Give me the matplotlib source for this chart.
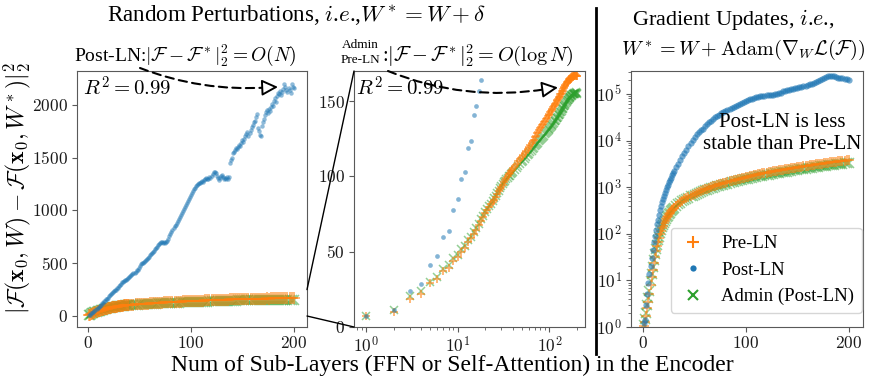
import numpy as np
import matplotlib
matplotlib.use('Agg')
import matplotlib.pyplot as plt
from matplotlib.patches import FancyArrowPatch, ConnectionPatch
from matplotlib.lines import Line2D
from matplotlib.ticker import FuncFormatter, NullFormatter, FixedLocator

plt.rcParams['font.family'] = ['Liberation Serif', 'DejaVu Serif']
plt.rcParams['mathtext.fontset'] = 'cm'

# ---------------- data: random perturbations (panels 1 & 2) ----------------
layers_post = list(range(1, 201))
post_perturb = [
    7, 11.5, 24, 28.5, 41, 47, 60, 64, 77.5, 85,
    98, 103, 119, 123.5, 141, 146.5, 157, 164, 175, 185,
    196, 204, 214, 225, 233, 244, 251, 262, 268, 282,
    290, 305, 318, 322, 331, 338, 345, 352, 362, 370,
    378, 385, 398, 405, 412, 420, 432, 440, 452, 470,
    488, 500, 506, 515, 521, 530, 538, 548, 560, 575,
    586, 598, 606, 618, 630, 640, 652, 668, 680, 690,
    697, 702, 690, 700, 695, 700, 712, 730, 756, 778,
    798, 815, 832, 850, 865, 880, 900, 918, 935, 955,
    975, 990, 1010, 1030, 1050, 1068, 1090, 1110, 1130, 1148,
    1165, 1185, 1200, 1215, 1230, 1240, 1250, 1262, 1255, 1270,
    1280, 1265, 1290, 1300, 1310, 1295, 1300, 1320, 1305, 1325,
    1340, 1360, 1365, 1350, 1330, 1310, 1290, 1305, 1325, 1335,
    1320, 1300, 1310, 1295, 1315, 1300, 1320, 1445, 1475, 1500,
    1540, 1555, 1575, 1590, 1580, 1600, 1620, 1610, 1640, 1665,
    1650, 1680, 1700, 1720, 1740, 1700, 1730, 1760, 1790, 1810,
    1835, 1850, 1880, 1910, 1780, 1750, 1715, 1705, 1800, 1840,
    1870, 1900, 1935, 1950, 1920, 1960, 1945, 1975, 2010, 1990,
    2040, 2060, 2030, 2080, 2110, 2100, 2130, 2090, 2120, 2150,
    2200, 2170, 2140, 2120, 2160, 2140, 2110, 2200, 2170, 2160,
]

layers_band = list(range(1, 41)) + list(range(42, 201, 2))
pre_perturb = [
    7.2, 9.8, 18.5, 22, 29, 32, 37, 39.5, 44, 46.5,
    50, 52.5, 56.5, 59, 62, 64.5, 67.5, 70.5, 73, 75.5,
    77.5, 80, 81.5, 83, 84.5, 86.5, 88, 90, 91.5, 93,
    94.5, 96, 97.5, 99, 100.5, 101.5, 102.5, 103.5, 104.5, 105.5,
    107, 108.5, 110, 111.5, 113, 114, 115.5, 117, 118.5, 119.5,
    121, 122, 123.5, 124.5, 126, 127, 128.5, 129.5, 131, 132,
    133, 134, 135, 136, 137, 138, 139, 140, 140.5, 141.5,
    142.5, 143.5, 144, 145, 146, 146.5, 147.5, 148, 149, 150,
    150.5, 151.5, 152, 153, 153.5, 154.5, 155, 155.5, 156.5, 157,
    158, 158.5, 159.5, 160, 160.5, 161.5, 162, 162.5, 163, 163.5,
    164, 164.5, 164, 165, 165.5, 165, 166, 165.5, 166.5, 166,
    167, 166.5, 167.5, 166.5, 167, 168, 166.5, 167.5, 167, 166.5,
]
admin_perturb = [
    7.5, 11.5, 20.5, 24, 30, 33.5, 38.5, 41, 46, 48,
    51.5, 54, 58, 60, 63, 65.5, 68.5, 71.5, 74, 76.5,
    78.5, 80.5, 82, 84, 85.5, 87, 89, 90.5, 92, 93.5,
    95, 96, 97, 98, 99, 100, 100.5, 101.5, 102, 103,
    104, 105.5, 107, 108, 109.5, 110.5, 111.5, 113, 114, 115,
    116, 117, 118, 119, 120, 121, 121.5, 122.5, 123.5, 124,
    125, 125.5, 126.5, 127, 128, 128.5, 129.5, 130, 130.5, 131.5,
    132, 133, 133.5, 134, 135, 135.5, 136.5, 137, 137.5, 138.5,
    139, 139.5, 140.5, 141, 141.5, 142.5, 143, 143.5, 144.5, 145,
    145.5, 146.5, 147, 147.5, 148, 148.5, 149.5, 150, 150.5, 151,
    151.5, 152, 152, 152.5, 153, 153.5, 154, 153.5, 154, 154.5,
    155, 154.5, 155, 155.5, 155, 155.5, 156, 155.5, 155, 155.5,
]

# ---------------- data: gradient updates (panel 3) ----------------
layers_grad = list(range(1, 31)) + list(range(32, 201, 2))
post_grad = [
    1.2, 1.4, 3, 5, 9, 14, 20, 30, 45, 65,
    90, 120, 160, 200, 250, 320, 390, 470, 560, 660,
    760, 870, 990, 1120, 1260, 1420, 1600, 1800, 2000, 2200,
    2650, 3150, 3800, 4600, 5500, 6300, 7500, 8800, 10200, 11800,
    13800, 15000, 16500, 18000, 20000, 22500, 24500, 26500, 29000, 31500,
    33500, 35500, 38000, 40000, 42500, 44500, 46500, 49000, 51500, 54000,
    57000, 60500, 63500, 67000, 70000, 73000, 76000, 79000, 82000, 85000,
    87000, 88500, 90000, 91000, 92500, 93500, 94000, 95500, 97500, 100000,
    104000, 107000, 113000, 115000, 121000, 122000, 127000, 128000, 133000, 134000,
    139000, 143000, 147000, 151000, 155000, 160000, 166000, 172000, 180000, 188000,
    196000, 205000, 215000, 228000, 240000, 248000, 245000, 238000, 228000, 222000,
    219000, 215000, 212000, 208000, 200000,
]
pre_grad = [
    1.05, 1.3, 1.7, 2.5, 3.5, 5, 8, 12, 17, 24,
    32, 42, 54, 67, 82, 98, 115, 132, 150, 168,
    186, 205, 224, 243, 262, 282, 302, 322, 342, 362,
    400, 437, 476, 511, 550, 584, 621, 654, 691, 725,
    761, 794, 831, 864, 901, 934, 971, 1004, 1041, 1075,
    1111, 1144, 1181, 1214, 1252, 1289, 1331, 1369, 1411, 1449,
    1491, 1529, 1571, 1609, 1652, 1689, 1731, 1769, 1811, 1849,
    1891, 1929, 1971, 2009, 2052, 2089, 2131, 2169, 2211, 2249,
    2291, 2329, 2372, 2409, 2451, 2494, 2541, 2584, 2631, 2674,
    2721, 2764, 2811, 2854, 2901, 2944, 2991, 3034, 3081, 3124,
    3171, 3214, 3261, 3304, 3351, 3394, 3441, 3484, 3531, 3574,
    3621, 3664, 3711, 3754, 3800,
]
admin_grad = [
    1.1, 1.5, 2.0, 3.0, 4.2, 6, 9.5, 14, 19.5, 27,
    36, 46, 58, 72, 87, 103, 120, 137, 155, 172,
    190, 208, 227, 245, 264, 283, 302, 320, 339, 357,
    393, 429, 462, 498, 531, 566, 596, 631, 661, 695,
    725, 758, 788, 821, 850, 883, 912, 945, 974, 1007,
    1036, 1069, 1098, 1131, 1160, 1196, 1227, 1263, 1294, 1329,
    1360, 1395, 1426, 1461, 1492, 1528, 1560, 1595, 1627, 1662,
    1694, 1729, 1761, 1796, 1828, 1863, 1895, 1930, 1962, 1997,
    2029, 2065, 2097, 2133, 2165, 2205, 2241, 2281, 2317, 2357,
    2393, 2433, 2469, 2509, 2545, 2585, 2621, 2661, 2697, 2737,
    2773, 2813, 2849, 2889, 2925, 2965, 3001, 3041, 3077, 3117,
    3153, 3193, 3229, 3269, 3300,
]

series_labels = ['Pre-LN', 'Post-LN', 'Admin (Post-LN)']

# ---------------- figure ----------------
W, H = 872, 379
fig = plt.figure(figsize=(W / 100, H / 100), dpi=100)


def box(l, t, r, b):
    return [l / W, 1 - b / H, (r - l) / W, (b - t) / H]


def fpx(x, y):
    return (x / W, 1 - y / H)


C_PRE, C_POST, C_ADM = '#ff7f0e', '#1f77b4', '#2ca02c'
SPINE = '0.35'

ax1 = fig.add_axes(box(77, 71, 307, 327))
ax2 = fig.add_axes(box(354, 71, 585, 327))
ax3 = fig.add_axes(box(631, 71, 863, 327))


def draw(ax, xb, pre, adm, xp, post, ms_band, ms_post, a_post):
    ax.plot(xb, adm, ls='none', marker='x', ms=ms_band, mew=1.1,
            color=C_ADM, alpha=0.5)
    ax.plot(xb, pre, ls='none', marker='+', ms=ms_band * 1.15, mew=1.3,
            color=C_PRE, alpha=0.6)
    ax.plot(xp, post, ls='none', marker='o', ms=ms_post, mew=0,
            color=C_POST, alpha=a_post)


draw(ax1, layers_band, pre_perturb, admin_perturb, layers_post, post_perturb,
     7, 3.2, 0.5)
draw(ax2, layers_band, pre_perturb, admin_perturb, layers_post, post_perturb,
     5.2, 3.4, 0.55)
draw(ax3, layers_grad, pre_grad, admin_grad, layers_grad, post_grad,
     6.5, 4.5, 0.6)

num_fmt = FuncFormatter(lambda v, p: f'${v:g}$')
pow_fmt = FuncFormatter(lambda v, p: f'$10^{{{int(round(np.log10(v)))}}}$')

ax1.set_xlim(-11, 213)
ax1.set_ylim(-104, 2320)
ax1.set_xticks([0, 100, 200])
ax1.set_yticks([0, 500, 1000, 1500, 2000])

ax2.set_xscale('log')
ax2.set_xlim(0.74, 245)
ax2.set_ylim(0, 170)
ax2.set_yticks([0, 50, 100, 150])

ax3.set_yscale('log')
ax3.set_xlim(-12, 214)
ax3.set_ylim(1, 3.1e5)
ax3.set_xticks([0, 100, 200])

for ax in (ax1, ax2, ax3):
    for s in ax.spines.values():
        s.set_color(SPINE)
    ax.tick_params(colors=SPINE, labelcolor='0.1', labelsize=12.5, length=3.5,
                   pad=3)
    ax.tick_params(which='minor', colors=SPINE, length=2)

ax1.xaxis.set_major_formatter(num_fmt)
ax1.yaxis.set_major_formatter(num_fmt)
ax2.yaxis.set_major_formatter(num_fmt)
ax2.xaxis.set_major_formatter(pow_fmt)
ax2.xaxis.set_minor_formatter(NullFormatter())
ax3.xaxis.set_major_formatter(num_fmt)
ax3.yaxis.set_major_locator(FixedLocator([1, 10, 100, 1e3, 1e4, 1e5]))
ax3.yaxis.set_major_formatter(pow_fmt)
ax3.yaxis.set_minor_formatter(NullFormatter())

# R^2 labels
ax1.text(0.025, 0.93, r'$R^2 = 0.99$', transform=ax1.transAxes, fontsize=15,
         va='center', ha='left')
ax2.text(0.008, 0.93, r'$R^2 = 0.99$', transform=ax2.transAxes, fontsize=15,
         va='center', ha='left')

ax3.text(0.652, 0.755, 'Post-LN is less\nstable than Pre-LN',
         transform=ax3.transAxes, ha='center', va='center', fontsize=15,
         linespacing=1.25)

# legend
handles = [
    Line2D([], [], ls='none', marker='+', ms=8, mew=1.5, color=C_PRE),
    Line2D([], [], ls='none', marker='o', ms=4.5, mew=0, color=C_POST),
    Line2D([], [], ls='none', marker='x', ms=7, mew=1.5, color=C_ADM),
]
ax3.legend(handles, series_labels, loc='lower right',
           bbox_to_anchor=(0.995, 0.055), borderaxespad=0, fontsize=13.5,
           framealpha=0.8, handletextpad=0.7, labelspacing=0.5,
           handlelength=1.6)

# zoom connector lines from panel 1 to panel 2
for ya, yb in ((250, 1), (0, 0)):
    con = ConnectionPatch(xyA=(213, ya), coordsA='data', axesA=ax1,
                          xyB=(0, yb), coordsB='axes fraction', axesB=ax2,
                          color='k', lw=1.0)
    fig.add_artist(con)

# separator line
fig.add_artist(Line2D([596 / W, 596 / W], [1 - 8 / H, 1 - 354 / H],
                      transform=fig.transFigure, color='k', lw=2))

# titles
fig.text(*fpx(297, 16), r'Random Perturbations, $i$.$e$.,$W^* = W + \delta$',
         ha='center', va='center', fontsize=16.6)
fig.text(*fpx(733, 20), r'Gradient Updates, $i$.$e$.,',
         ha='center', va='center', fontsize=16)
fig.text(*fpx(743, 50), r'$W^* = W + \mathrm{Adam}(\nabla_W \mathcal{L}(\mathcal{F}))$',
         ha='center', va='center', fontsize=14.5)

fig.text(*fpx(185, 55), r'Post-LN:$|\mathcal{F} - \mathcal{F}^*|_2^2 = O(N)$',
         ha='center', va='center', fontsize=14)
fig.text(*fpx(360, 45), 'Admin', ha='center', va='center', fontsize=9.5)
fig.text(*fpx(360, 60), 'Pre-LN', ha='center', va='center', fontsize=9.5)
fig.text(*fpx(382, 55), r':$|\mathcal{F} - \mathcal{F}^*|_2^2 = O(\log N)$',
         ha='left', va='center', fontsize=14.6)


# dashed arrows
def dashed_arrow(start, tail_end, tip, rad):
    path = FancyArrowPatch(fpx(*start), fpx(*tail_end), transform=fig.transFigure,
                           arrowstyle='-', connectionstyle=f'arc3,rad={rad}',
                           ls=(0, (4, 2.5)), lw=1.5, color='k',
                           shrinkA=0, shrinkB=0)
    fig.add_artist(path)
    head = FancyArrowPatch(fpx(*tail_end), fpx(*tip), transform=fig.transFigure,
                           arrowstyle='-|>,head_length=0.7,head_width=0.35',
                           mutation_scale=14, lw=1.4, ec='k', fc='white',
                           shrinkA=0, shrinkB=0)
    fig.add_artist(head)


dashed_arrow((140, 68), (267, 87.5), (278, 87), 0.11)
dashed_arrow((388, 71), (547, 89), (558, 87.5), 0.14)

# axis labels
fig.text(*fpx(17, 188),
         r'$|\mathcal{F}(\mathbf{x}_0, W) - \mathcal{F}(\mathbf{x}_0, W^*)|_2^2$',
         rotation=90, ha='center', va='center', fontsize=17)
fig.text(*fpx(452, 365), 'Num of Sub-Layers (FFN or Self-Attention) in the Encoder',
         ha='center', va='center', fontsize=17)

fig.savefig('out.png', dpi=100)
